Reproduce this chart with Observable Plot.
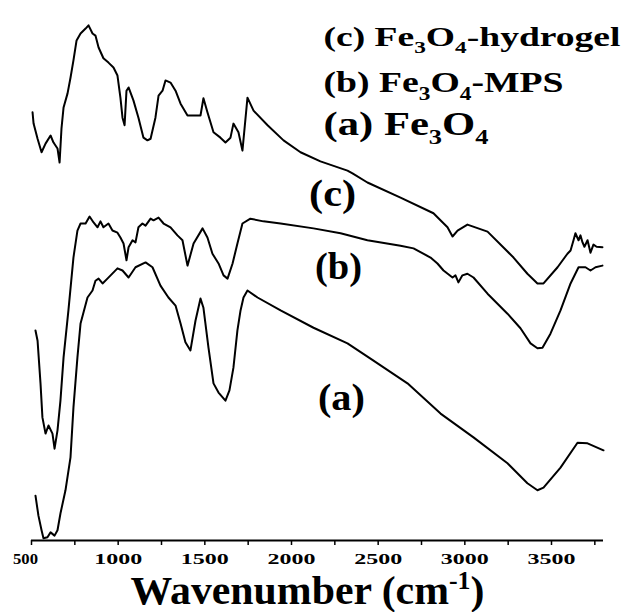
<!DOCTYPE html>
<html><head><meta charset="utf-8">
<script src="https://cdn.jsdelivr.net/npm/d3@7"></script>
<script src="https://cdn.jsdelivr.net/npm/@observablehq/plot@0.6"></script>
<style>body{margin:0;background:#fff}</style>
</head><body><div id="chart"></div>
<script>
// FTIR spectra: [wavenumber (cm-1), transmittance (a.u., offset)]
const spectrumA = [[523,8.3],[540,4.6],[558,1.9],[569,0.4],[592,0.6],[610,1.5],[633,0.9],[650,1.9],[667,5.0],[696,9.3],[725,15.4],[742,24.6],[765,33.9],[783,40.2],[823,45.0],[852,46.3],[869,48.1],[887,48.5],[910,47.6],[938,48.5],[996,50.4],[1025,50.0],[1060,48.7],[1100,50.6],[1158,51.5],[1198,50.6],[1244,47.2],[1290,45.0],[1331,43.5],[1360,40.2],[1388,36.7],[1417,35.2],[1446,40.7],[1475,44.8],[1492,43.1],[1521,35.7],[1550,29.1],[1579,27.4],[1619,25.9],[1642,27.8],[1665,32.0],[1688,38.9],[1706,42.6],[1723,45.0],[1746,46.3],[1804,45.0],[1937,42.6],[2127,39.4],[2323,36.5],[2473,33.3],[2669,29.1],[2860,23.5],[3050,19.1],[3246,14.3],[3361,10.6],[3419,9.3],[3454,9.8],[3552,13.5],[3650,18.1],[3708,18.0],[3800,16.7]];
const spectrumB = [[523,38.9],[535,37.0],[552,29.1],[563,22.8],[581,19.8],[598,21.3],[621,19.8],[633,17.0],[650,20.4],[667,25.9],[685,33.9],[713,42.6],[742,52.4],[765,57.4],[783,58.7],[812,58.7],[835,60.0],[858,58.9],[881,58.0],[898,59.1],[915,58.0],[944,58.7],[967,57.4],[996,57.0],[1013,56.1],[1031,55.0],[1048,51.9],[1060,54.3],[1083,55.6],[1100,55.2],[1117,58.0],[1140,58.7],[1158,58.3],[1187,59.6],[1204,59.3],[1233,59.8],[1262,58.7],[1302,58.0],[1342,56.5],[1371,55.6],[1400,50.9],[1435,55.0],[1487,57.8],[1515,56.1],[1544,53.1],[1579,51.3],[1608,49.1],[1631,48.5],[1660,51.3],[1688,55.0],[1717,58.7],[1763,59.6],[1838,59.1],[1937,58.7],[2127,57.8],[2283,56.9],[2438,55.6],[2629,54.6],[2704,54.1],[2802,52.4],[2842,51.3],[2877,50.0],[2929,48.7],[2946,49.1],[2963,47.8],[2986,49.1],[3015,49.4],[3050,48.7],[3131,45.7],[3246,42.0],[3321,39.3],[3379,36.5],[3419,35.6],[3448,35.7],[3494,38.3],[3552,42.6],[3610,47.6],[3656,50.6],[3696,50.6],[3725,50.0],[3754,50.6],[3794,50.9]];
const spectrumC = [[506,79.3],[512,77.2],[535,74.4],[558,71.9],[581,73.5],[610,75.0],[627,73.7],[650,72.6],[662,70.0],[673,76.3],[685,80.2],[708,82.8],[725,85.7],[742,88.9],[760,92.6],[783,93.9],[812,94.8],[829,95.4],[852,93.9],[869,93.5],[887,91.3],[915,89.3],[944,88.5],[973,87.6],[996,86.1],[1013,82.0],[1025,78.3],[1037,76.9],[1048,83.3],[1060,83.9],[1088,81.5],[1117,78.3],[1146,74.6],[1169,74.1],[1187,74.4],[1215,78.3],[1233,82.4],[1256,83.3],[1273,85.2],[1302,84.8],[1331,83.3],[1360,80.9],[1400,78.7],[1429,78.7],[1475,78.7],[1492,81.9],[1515,79.3],[1550,75.6],[1590,74.6],[1619,73.7],[1648,74.6],[1665,77.2],[1694,75.6],[1717,72.2],[1746,82.0],[1781,79.6],[1862,76.9],[1954,74.1],[2052,71.9],[2167,70.2],[2323,68.5],[2352,68.0],[2438,66.3],[2629,63.5],[2819,60.6],[2900,58.0],[2929,56.3],[2958,57.4],[3015,58.5],[3131,57.2],[3281,52.4],[3361,49.4],[3419,47.6],[3454,47.6],[3535,50.6],[3592,53.1],[3610,53.7],[3627,55.6],[3638,56.9],[3656,55.6],[3667,56.5],[3679,55.2],[3690,54.4],[3708,55.6],[3725,53.3],[3742,54.8],[3760,54.4],[3794,54.3]];
const seriesNames = ["a", "b", "c"];
const legendLabels = ["(c) Fe3O4-hydrogel", "(b) Fe3O4-MPS", "(a) Fe3O4"];
const curveLabels = ["(a)", "(b)", "(c)"];
const xTicks = [500, 750, 1000, 1250, 1500, 1750, 2000, 2250, 2500, 2750, 3000, 3250, 3500, 3750];
const xTitle = "Wavenumber (cm-1)";

const spectra = [spectrumA, spectrumB, spectrumC];
const rows = spectra.flatMap((s, i) => s.map(([w, t]) => ({series: seriesNames[i], w, t})));

const serif = "Liberation Serif";
const labelPos = [{x: 2288, y: 24.1}, {x: 2271, y: 48.5}, {x: 2237, y: 62.0}];
const legendLayout = [{dy: 45, fs: 28, len: 297}, {dy: 91, fs: 30, len: 240}, {dy: 134, fs: 34, len: 165}];

const chart = Plot.plot({
  width: 624, height: 612,
  marginLeft: 31, marginRight: 21, marginTop: 0, marginBottom: 72,
  x: {domain: [500, 3800]},
  y: {domain: [0, 100], axis: null},
  style: {fontFamily: serif, background: "white", color: "black", overflow: "visible"},
  marks: [
    Plot.lineY(rows, {x: "w", y: "t", z: "series", stroke: "black", strokeWidth: 2, strokeLinejoin: "round", curve: "linear"}),
    Plot.ruleY([0], {stroke: "black", strokeWidth: 2}),
    Plot.axisX({ticks: xTicks, tickSize: 5, tickPadding: 8, strokeWidth: 1.5, fontSize: 15, fontWeight: "bold", fontFamily: serif,
      tickFormat: d => d % 500 === 0 ? String(d) : "", label: null}),
    Plot.text(curveLabels.map((t, i) => ({t, ...labelPos[i]})), {x: "x", y: "y", text: "t", fontSize: 38, fontWeight: "bold", fontFamily: serif, lineAnchor: "bottom", ariaDescription: "curve-label"}),
    ...legendLabels.map((t, i) => Plot.text([t], {text: d => d, frameAnchor: "top-left", dx: 292, dy: legendLayout[i].dy,
      textAnchor: "start", lineAnchor: "bottom", fontSize: legendLayout[i].fs, fontWeight: "bold", fontFamily: serif, ariaDescription: "legend-" + i})),
    Plot.text([xTitle], {text: d => d, frameAnchor: "bottom", dx: -10, dy: 63, lineAnchor: "bottom", fontSize: 40, fontWeight: "bold", fontFamily: serif, ariaDescription: "x-title"})
  ]
});
document.getElementById("chart").appendChild(chart);

const NS = "http://www.w3.org/2000/svg";
function setRich(el, segments, fs) {
  el.textContent = "";
  let cur = 0;
  for (const [txt, shift] of segments) {
    const t = document.createElementNS(NS, "tspan");
    t.textContent = txt;
    const dy = shift - cur;
    if (dy) t.setAttribute("dy", dy);
    if (shift) t.setAttribute("font-size", fs * 0.62);
    cur = shift;
    el.appendChild(t);
  }
}
const svg = d3.select(chart);
legendLabels.forEach((lab, i) => {
  svg.selectAll(`g[aria-description="legend-${i}"] text`).each(function() {
    const fs = legendLayout[i].fs;
    const segs = lab.split(/(\d)/).filter(s => s).map(s => [s, /^\d$/.test(s) ? fs * 0.28 : 0]);
    setRich(this, segs, fs);
    this.setAttribute("textLength", legendLayout[i].len);
    this.setAttribute("lengthAdjust", "spacingAndGlyphs");
  });
});
svg.selectAll('g[aria-description="x-title"] text').each(function() {
  const segs = xTitle.split(/(-1)/).filter(s => s).map(s => [s, s === "-1" ? -40 * 0.36 : 0]);
  setRich(this, segs, 40);
  this.setAttribute("textLength", 354);
  this.setAttribute("lengthAdjust", "spacingAndGlyphs");
});
svg.selectAll('g[aria-description="curve-label"] text').each(function() {
  this.setAttribute("textLength", 47);
  this.setAttribute("lengthAdjust", "spacingAndGlyphs");
});
svg.selectAll('g[aria-label="x-axis tick label"] text').each(function() {
  const s = this.textContent;
  if (!s) return;
  if (s.length === 3) { this.setAttribute("textLength", 25); this.setAttribute("dx", -6); }
  else this.setAttribute("textLength", 48);
  this.setAttribute("lengthAdjust", "spacingAndGlyphs");
});
</script>
</body></html>
